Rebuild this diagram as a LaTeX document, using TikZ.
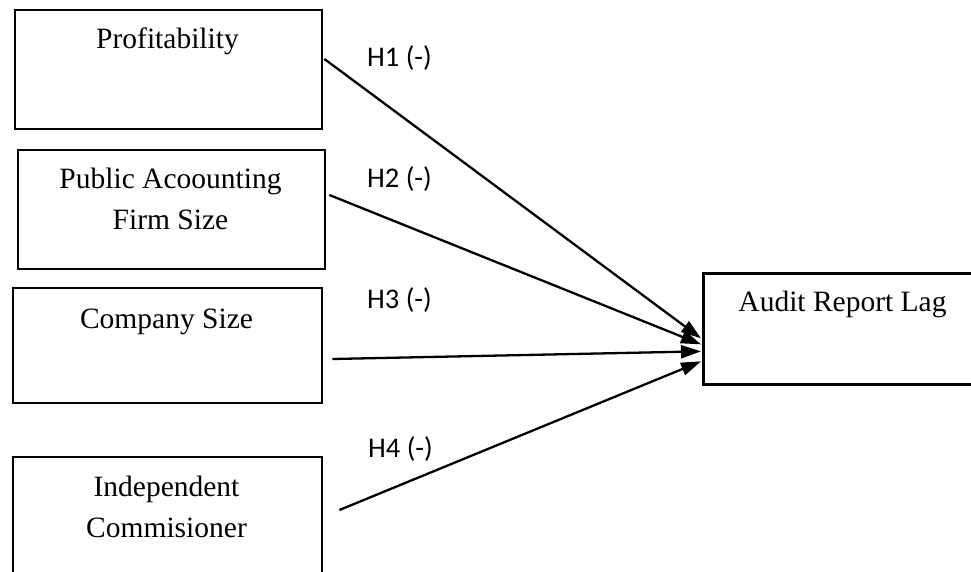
\documentclass[tikz,border=0pt]{standalone}
\usepackage{fontspec}
\setmainfont{Liberation Serif}
\newfontfamily\labelfont{Carlito}
\usetikzlibrary{arrows.meta,calc}
\begin{document}
\begin{tikzpicture}[x=1pt,y=-1pt,
  box/.style={draw,line width=2.4pt,inner sep=0pt,anchor=north west},
  txt/.style={inner sep=0pt,font=\fontsize{29.5}{41}\selectfont,align=center},
  hyp/.style={inner sep=0pt,anchor=base west,font=\labelfont\fontsize{28.5}{34}\selectfont},
  link/.style={line width=2.3pt,-{Triangle[length=20pt,width=13pt]}}]
\useasboundingbox (0,0) rectangle (971,571);
\fill[white] (0,0) rectangle (971,571);
% boxes
\node[box,minimum width=307pt,minimum height=119pt] (p) at (14,9) {};
\node[box,minimum width=307pt,minimum height=119pt] (f) at (17,149) {};
\node[box,minimum width=309pt,minimum height=115pt] (c) at (12,287) {};
\node[box,minimum width=309pt,minimum height=150pt] (i) at (12,456) {};
\node[box,line width=2.7pt,minimum width=285pt,minimum height=111pt] (a) at (702,272) {};
% texts
\node[txt,anchor=base] (pt) at (167.5,48) {Profitability};
\node[txt,anchor=north] (ft) at (170.5,168) {Public Acoounting\\Firm Size};
\node[txt,anchor=base] (ct) at (166.5,328) {Company Size};
\node[txt,anchor=north] (it) at (166.5,476) {Independent\\Commisioner};
\node[txt,anchor=base] (at) at (842.5,311) {Audit Report Lag};
% connector end points
\coordinate (s1) at ($(p.north east)+(1,50)$);
\coordinate (s2) at ($(f.north east)+(3,46)$);
\coordinate (s3) at ($(c.north east)+(9,72)$);
\coordinate (s4) at ($(i.north east)+(16,54)$);
\coordinate (e1) at ($(a.west)+(-1,9.5)$);
\coordinate (e2) at ($(a.west)+(-1,15.5)$);
\coordinate (e3) at ($(a.west)+(-1,22.5)$);
\coordinate (e4) at ($(a.west)+(-1,32.5)$);
\draw[link] (s1) -- (e1);
\draw[link] (s2) -- (e2);
\draw[link] (s3) -- (e3);
\draw[link] (s4) -- (e4);
% hypothesis labels
\node[hyp] (h1) at (367,66) {H1 (-)};
\node[hyp] (h2) at (367,187) {H2 (-)};
\node[hyp] (h3) at (367,308) {H3 (-)};
\node[hyp] (h4) at (368,457) {H4 (-)};
\end{tikzpicture}
\end{document}
